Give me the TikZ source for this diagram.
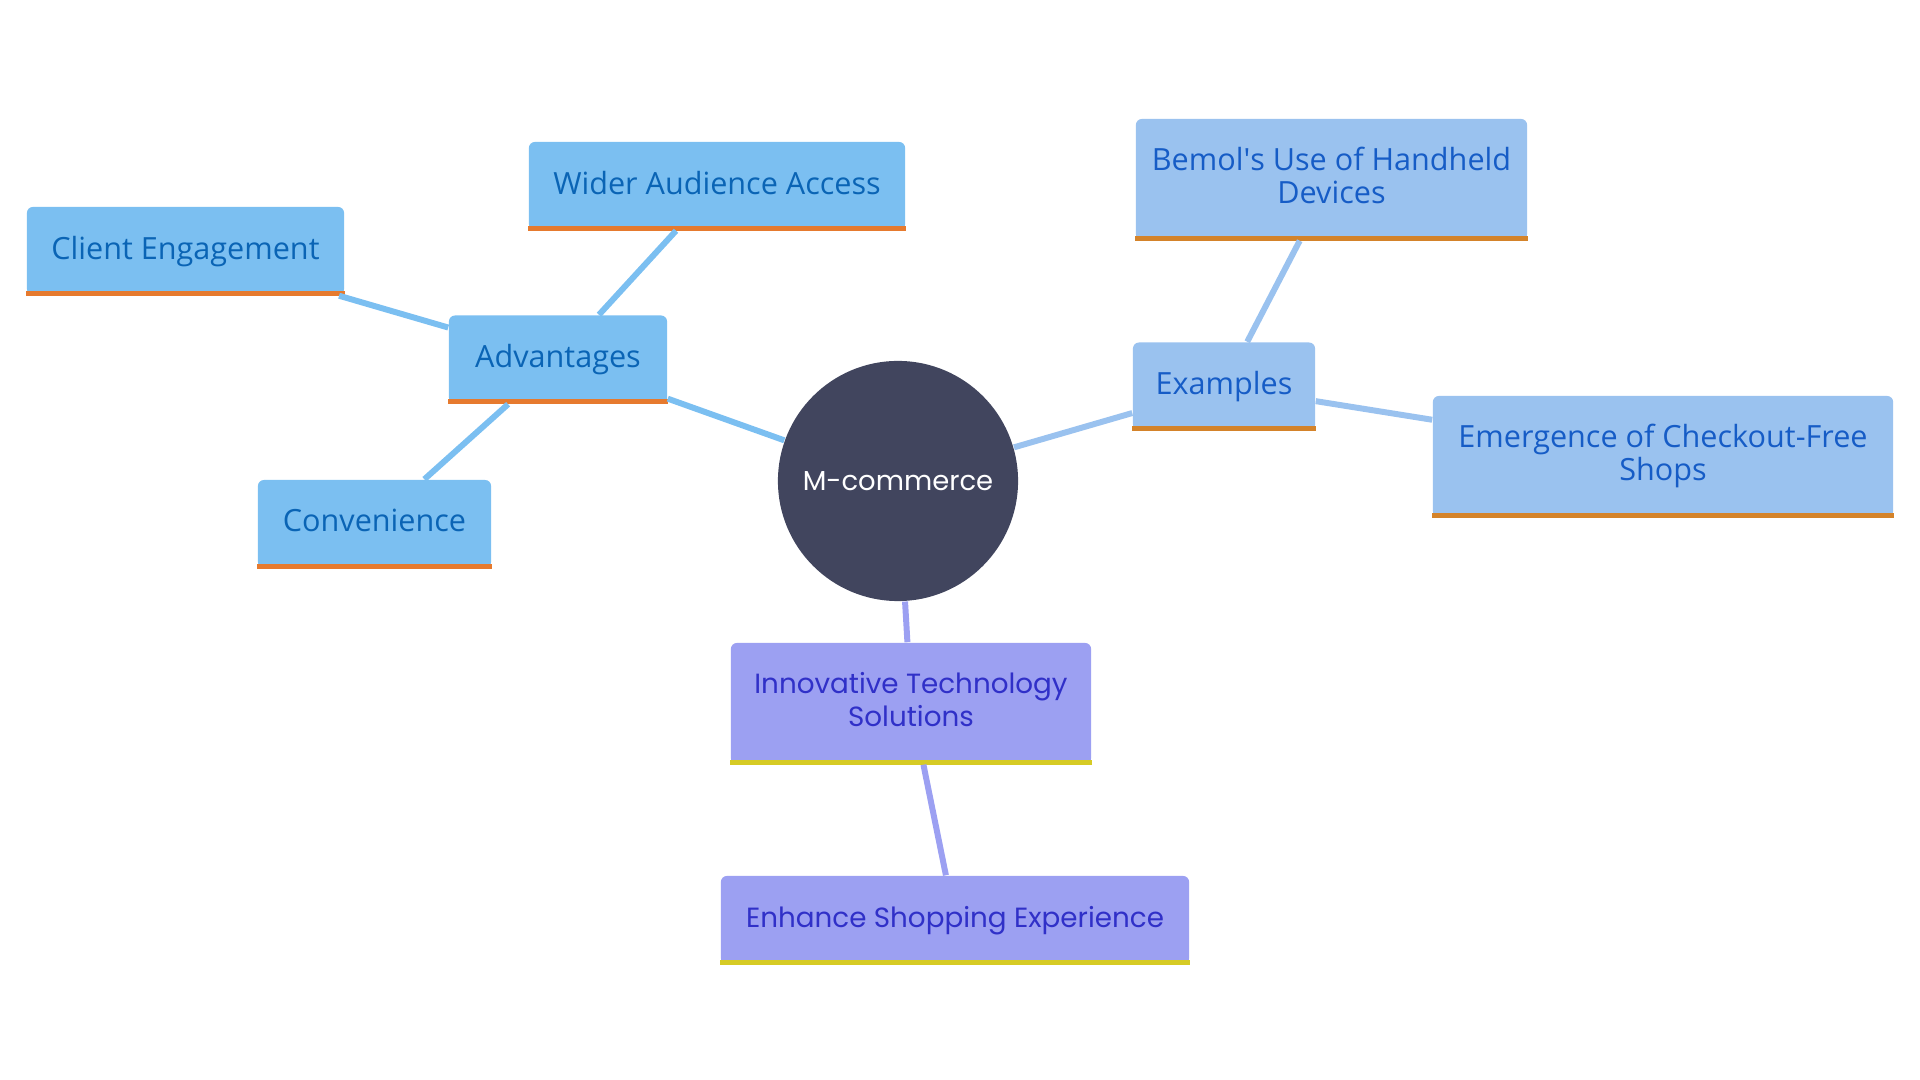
\documentclass[tikz,border=0pt]{standalone}
\usepackage{fontspec}
\setmainfont{Open Sans}
\newfontfamily\widefont{Poppins}
\usetikzlibrary{positioning}
\definecolor{advfill}{HTML}{7BBFF1}
\definecolor{advtext}{HTML}{0A64B5}
\definecolor{advbar}{HTML}{E67A2E}
\definecolor{exfill}{HTML}{9AC2EF}
\definecolor{extext}{HTML}{165CC6}
\definecolor{exbar}{HTML}{D4832A}
\definecolor{innofill}{HTML}{9CA0F2}
\definecolor{innotext}{HTML}{3030C8}
\definecolor{innobar}{HTML}{D6CB25}
\definecolor{corefill}{HTML}{41455E}
\begin{document}
\begin{tikzpicture}[
    x=0.01cm, y=-0.01cm,
    font=\fontsize{8.7pt}{9.4pt}\selectfont,
    leaf/.style={rectangle, rounded corners=0.06cm, align=center,
                 inner sep=0pt, minimum height=0.88cm, text depth=0.07cm},
    twoline/.style={minimum height=1.21cm, text depth=0.09cm},
    advbox/.style={leaf, fill=advfill, text=advtext},
    exbox/.style={leaf, fill=exfill, text=extext},
    innobox/.style={leaf, fill=innofill, text=innotext, font=\widefont\fontsize{7.9pt}{9.4pt}\selectfont},
    core/.style={circle, fill=corefill, text=white, minimum size=2.4cm,
                 inner sep=0pt, font=\widefont\fontsize{7.8pt}{9.4pt}\selectfont},
    link/.style={line width=1.7pt},
  ]
  \useasboundingbox (0,0) rectangle (1920,1080);

  % ========================= NODOS =========================
  \node[core] (mc) at (898, 481) {M-commerce};

  % ventajas
  \node[advbox, minimum width=2.18cm] (adv) at (558, 359.5) {Advantages};
  \node[advbox, minimum width=3.17cm] (eng) at (185.5, 251) {Client Engagement};
  \node[advbox, minimum width=3.76cm] (aud) at (717, 186) {Wider Audience Access};
  \node[advbox, minimum width=2.33cm] (conv) at (374.5, 524) {Convenience};

  % ejemplos
  \node[exbox, minimum width=1.82cm] (ex) at (1224, 386.5) {Examples};
  \node[exbox, twoline, minimum width=3.91cm] (bemol) at (1331.5, 179.5)
    {Bemol\textquotesingle s Use of Handheld\\Devices};
  \node[exbox, twoline, minimum width=4.60cm] (shops) at (1663, 456.5)
    {Emergence of Checkout-Free\\Shops};

  % tecnologia
  \node[innobox, twoline, minimum width=3.60cm] (tech) at (911, 703.5)
    {Innovative Technology\\Solutions};
  \node[innobox, minimum width=4.68cm] (shop) at (955, 920)
    {Enhance Shopping Experience};

  % ====================== BARRAS INFERIORES ================
  \newcommand{\nodebar}[2]{%
    \fill[#2] (#1.south west) rectangle ([yshift=0.05cm]#1.south east);}
  \foreach \n in {adv, eng, aud, conv} {\nodebar{\n}{advbar}}
  \foreach \n in {ex, bemol, shops} {\nodebar{\n}{exbar}}
  \foreach \n in {tech, shop} {\nodebar{\n}{innobar}}

  % ========================= ENLACES =======================
  \draw[link, advfill] (mc) -- (adv);
  \draw[link, advfill] (adv) -- (eng);
  \draw[link, advfill] (adv) -- (aud);
  \draw[link, advfill] (adv) -- (conv);
  \draw[link, exfill] (mc) -- (ex);
  \draw[link, exfill] (ex) -- (bemol);
  \draw[link, exfill] (ex) -- (shops);
  \draw[link, innofill] (mc) -- (tech);
  \draw[link, innofill] (tech) -- (shop);
\end{tikzpicture}
\end{document}
